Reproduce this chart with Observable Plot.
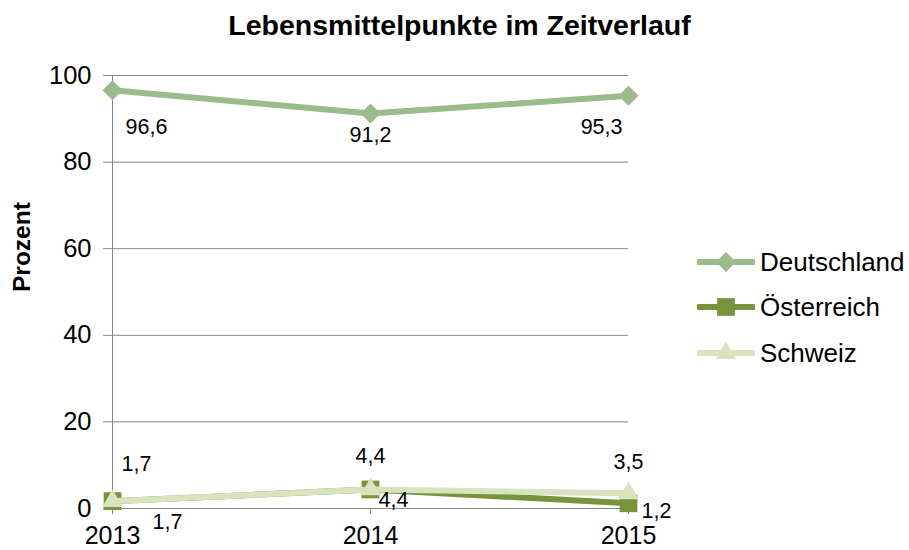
<!DOCTYPE html>
<html>
<head>
<meta charset="utf-8">
<script src="https://cdn.jsdelivr.net/npm/d3@7"></script>
<script src="https://cdn.jsdelivr.net/npm/@observablehq/plot@0.6"></script>
<style>
  html, body { margin: 0; padding: 0; background: #fff; }
  body { font-family: "Liberation Sans", Arial, sans-serif; }
  #wrap { position: relative; width: 909px; height: 550px; overflow: hidden; }
  #title { height: 50px; line-height: 50px; text-align: center; padding-left: 10px; box-sizing: border-box;
           font-weight: bold; font-size: 28.5px; color: #000; }
  #legend { position: absolute; left: 697px; top: 0; }
  .lrow { position: absolute; left: 0; height: 24px; width: 220px; }
  .lrow svg { position: absolute; left: 0; top: 0; }
  .lrow span { position: absolute; left: 63px; top: 0; line-height: 24px; font-size: 26px; color: #000; white-space: nowrap; }
</style>
</head>
<body>
<div id="wrap">
  <div id="title">Lebensmittelpunkte im Zeitverlauf</div>
  <div id="chart"></div>
  <div id="legend"></div>
</div>
<script>
// ---- data ----
const years = [2013, 2014, 2015];
const seriesNames = ["Deutschland", "Österreich", "Schweiz"];
const deutschland = [96.6, 91.2, 95.3];
const oesterreich = [1.7, 4.4, 1.2];
const schweiz = [1.7, 4.4, 3.5];
const yTicks = [0, 20, 40, 60, 80, 100];
const yLabel = "Prozent";

// ---- styles ----
const colors = ["#9BBB8B", "#77933C", "#D7E4BD"];
const symbols = ["diamond2", "square", "triangle"];
const radii = [9, 10, 7.6];
const gray = "#868686";
const values = [deutschland, oesterreich, schweiz];

const rows = values.map((vals, s) => years.map((yr, i) => ({series: seriesNames[s], year: yr, value: vals[i], i})));
const fmt = v => v.toLocaleString("de-DE", {minimumFractionDigits: 1, maximumFractionDigits: 1});

function lbl(s, i, anchor, dx, dy) {
  return Plot.text(rows[s].filter(d => d.i === i), {
    x: "year", y: "value", text: d => fmt(d.value),
    textAnchor: anchor, dx, dy, fontSize: 21.5, fill: "#000"
  });
}

const marks = [
  Plot.gridY(yTicks, {stroke: gray, strokeOpacity: 1}),
  Plot.ruleX([years[0]], {y1: 0, y2: 100, stroke: gray}),
  Plot.axisY(yTicks, {tickSize: 9, tickPadding: 12, fontSize: 25.5, label: null, stroke: gray, fill: "#000"}),
  Plot.axisX(years, {tickSize: 6, tickPadding: 12, fontSize: 25, label: null, tickFormat: d => String(d), stroke: gray, fill: "#000"}),
  Plot.text([yLabel], {frameAnchor: "left", dx: -90, rotate: -90, fontSize: 24.5, fontWeight: "bold", fill: "#000"})
];
rows.forEach((r, s) => {
  marks.push(Plot.line(r, {x: "year", y: "value", stroke: colors[s], strokeWidth: 6, strokeLinejoin: "round"}));
  marks.push(Plot.dot(r, {x: "year", y: "value", symbol: symbols[s], r: radii[s], fill: colors[s], stroke: "none"}));
});
// Deutschland labels (below)
marks.push(lbl(0, 0, "start", 13, 37), lbl(0, 1, "middle", 0, 22), lbl(0, 2, "end", -6, 31));
// Österreich labels (below right)
marks.push(lbl(1, 0, "start", 40, 21), lbl(1, 1, "start", 8, 11), lbl(1, 2, "start", 13, 8));
// Schweiz labels (above)
marks.push(lbl(2, 0, "start", 9, -37), lbl(2, 1, "middle", 0, -33), lbl(2, 2, "middle", 0, -31));

const chart = Plot.plot({
  width: 909,
  height: 500,
  marginLeft: 112,
  marginRight: 281,
  marginTop: 25,
  marginBottom: 42,
  style: {fontFamily: '"Liberation Sans", Arial, sans-serif', background: "#fff", color: "#000", overflow: "visible"},
  x: {type: "point", domain: years, padding: 0, axis: null},
  y: {domain: [0, 100], axis: null},
  marks
});
document.getElementById("chart").appendChild(chart);

// ---- legend ----
const legend = d3.select("#legend");
const rowTops = [250, 295, 341];
seriesNames.forEach((name, s) => {
  const row = legend.append("div").attr("class", "lrow").style("top", rowTops[s] + "px");
  const svg = row.append("svg").attr("width", 58).attr("height", 24);
  svg.append("line").attr("x1", 2).attr("x2", 56).attr("y1", 12).attr("y2", 12)
    .attr("stroke", colors[s]).attr("stroke-width", 6).attr("stroke-linecap", "round");
  const sym = {diamond2: d3.symbolDiamond2, square: d3.symbolSquare, triangle: d3.symbolTriangle}[symbols[s]];
  svg.append("path").attr("transform", "translate(29,12)")
    .attr("d", d3.symbol(sym, Math.PI * radii[s] * radii[s])()).attr("fill", colors[s]);
  row.append("span").text(name);
});
</script>
</body>
</html>
